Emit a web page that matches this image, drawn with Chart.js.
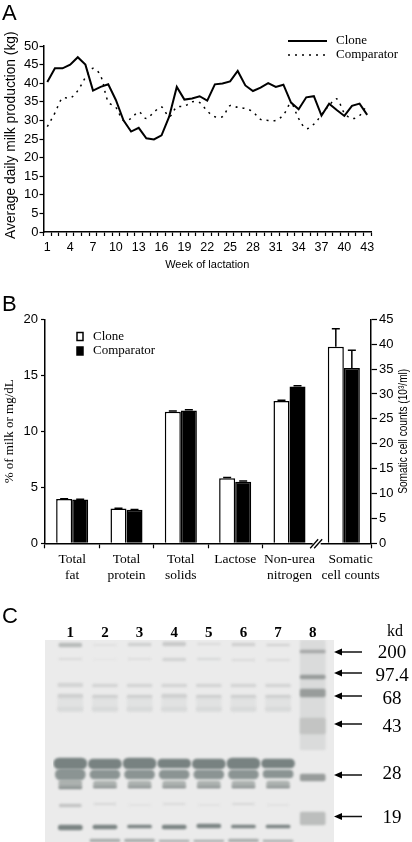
<!DOCTYPE html>
<html>
<head>
<meta charset="utf-8">
<script src="https://cdn.jsdelivr.net/npm/chart.js@4/dist/chart.umd.min.js"></script>
<style>
  html, body { margin: 0; padding: 0; background: #fff; }
  body { position: relative; width: 412px; height: 842px; overflow: hidden; }
  canvas { position: absolute; left: 0; }
  .panel { position: absolute; left: 2px; font: 22px "Liberation Sans", sans-serif; line-height: 22px; color: #000; }
</style>
</head>
<body>
<canvas id="milkChart" width="412" height="274" style="top:0"></canvas>
<canvas id="compChart" width="412" height="295" style="top:290px"></canvas>
<canvas id="gelChart" width="412" height="227" style="top:615px"></canvas>
<div class="panel" style="top:2px">A</div>
<div class="panel" style="top:293px">B</div>
<div class="panel" style="top:605px">C</div>
<script>
// panel A
const weeks = ["1","2","3","4","5","6","7","8","9","10","11","12","13","14","15","16","17","18","19","20","21","22","23","24","25","26","27","28","29","30","31","32","33","34","35","36","37","38","39","40","41","42","43"];
const cloneMilk = [40.3,44,44,45,47,45,38,39,39.7,35.5,30,27,28,25.2,24.9,26,31,39,35.6,35.9,36.5,35.3,39.7,39.9,40.5,43.3,39.4,37.9,38.8,40,39,39.6,34.8,33,36.2,36.5,31.3,34.5,32.8,31.2,33.9,34.5,31.5];
const comparatorMilk = [28.3,32,36,36,38,41.5,44,42,35,33.5,30,30.5,32.3,30.5,32.2,33.6,31,33.6,33.8,35,34.8,32.5,31,31,34,33.5,33.2,32.3,30.3,30,30,31.5,34.5,30.5,27.8,29,31.5,34,35.8,32,30.5,31.3,34.2];

// panel B, nbsp on the last label because it sits right of its bars in the original
const components = [["Total","fat"],["Total","protein"],["Total","solids"],["Lactose"],["Non-urea","nitrogen"],["\u00a0\u00a0\u00a0\u00a0Somatic","\u00a0\u00a0\u00a0\u00a0cell counts"]];
const clonePct = [3.95,3.1,11.75,5.8,12.7,null];
const comparatorPct = [3.9,3.0,11.85,5.5,14,null];
const cloneScc = [null,null,null,null,null,39.5];
const comparatorScc = [null,null,null,null,null,35.2];
const clonePctErr = [0.02,0.02,0.07,0.07,0.07,null];
const comparatorPctErr = [0.04,0.02,0.07,0.07,0.06,null];
const cloneSccErr = [null,null,null,null,null,3.6];
const comparatorSccErr = [null,null,null,null,null,3.6];

// panel C, migration measured down the gel from its top edge
const lanes = ["1","2","3","4","5","6","7","8"];
const bandHigh = [[3,7],[4,6],[3,6],[2,6],[3,5],[3,6],[4,6]];
const bandHigh2 = [[18,20],[19,20],[18,20],[18,21],[18,20],[19,21],[19,21]];
const bandMid1 = [[43,47],[44,47],[44,47],[44,47],[44,47],[44,47],[44,47]];
const bandMid2 = [[54,58],[55,58],[55,58],[54,58],[55,58],[55,58],[55,58]];
const smearMid = [[57,72],[57,72],[57,72],[57,72],[57,72],[57,72],[57,72]];
const bandMid3 = [[67,71],[67,71],[67,71],[67,71],[67,71],[67,71],[67,71]];
const caseinUpper = [[118,129],[119,129],[118,129],[119,128],[119,129],[118,129],[119,128]];
const caseinMiddle = [[129,140],[130,139],[130,139],[130,139],[130,139],[130,139],[130,138]];
const caseinLower = [[140,147],[141,147],[141,147],[141,147],[141,147],[141,147],[141,147]];
const caseinLine = [[146,149],[146,148],[146,148],[146,148],[146,148],[146,148],[146,148]];
const bandFaint = [[164,167],[163,165],[164,166],[163,165],[164,166],[163,165],[164,166]];
const bandLow = [[185,190],[185,189],[185,188],[185,189],[184,188],[185,188],[185,188]];
const bandEdge = [null,[199,202],[199,202],[200,202],[200,202],[199,202],[200,202]];
const ladderTop = [0,35,49,78,134,172];
const ladderBottom = [110,39,57,94,141,185];
const ladderTopBand = [10,13];
const markerLabels = ["200","97.4","68","43","28","19"];
const markerArrows = [12,33,56,84,135,176.5];
const markerTextRows = [13,36,59,87,134,178];

const serif = '"Liberation Serif", serif';
const sans = '"Liberation Sans", sans-serif';

Chart.defaults.animation = false;
Chart.defaults.responsive = false;
Chart.defaults.devicePixelRatio = 1;
Chart.defaults.color = "#000";
Chart.defaults.plugins.legend.display = false;
Chart.defaults.plugins.tooltip.enabled = false;

// legend sits outside the plot in both panels, so it is drawn by hand from the datasets
const handLegend = {
  id: "handLegend",
  afterDraw(chart, args, opts) {
    const ctx = chart.ctx;
    ctx.save();
    ctx.font = "13px " + serif;
    ctx.textBaseline = "middle";
    ctx.textAlign = "left";
    opts.items.forEach((idx, i) => {
      const ds = chart.data.datasets[idx];
      const y = opts.y + i * opts.step;
      if (opts.kind === "line") {
        ctx.strokeStyle = "#000";
        ctx.lineWidth = ds.borderWidth;
        ctx.setLineDash(ds.borderDash || []);
        ctx.beginPath();
        ctx.moveTo(opts.x, y);
        ctx.lineTo(opts.x + 39, y);
        ctx.stroke();
        ctx.setLineDash([]);
      } else {
        ctx.fillStyle = ds.backgroundColor;
        ctx.strokeStyle = "#000";
        ctx.lineWidth = 1.5;
        ctx.fillRect(opts.x, y - 4, 6, 8);
        ctx.strokeRect(opts.x, y - 4, 6, 8);
      }
      ctx.fillStyle = "#000";
      ctx.fillText(ds.label, opts.textX, y);
    });
    ctx.restore();
  }
};

const errorBars = {
  id: "errorBars",
  afterDatasetsDraw(chart) {
    const ctx = chart.ctx;
    ctx.save();
    ctx.strokeStyle = "#000";
    ctx.lineWidth = 1.5;
    chart.data.datasets.forEach((ds, d) => {
      const meta = chart.getDatasetMeta(d);
      const scale = chart.scales[ds.yAxisID];
      ds.errors.forEach((err, i) => {
        if (err === null) return;
        const x = meta.data[i].x;
        const y0 = scale.getPixelForValue(ds.data[i]);
        const y1 = scale.getPixelForValue(ds.data[i] + err);
        ctx.beginPath();
        ctx.moveTo(x, y0);
        ctx.lineTo(x, y1);
        ctx.moveTo(x - 4, y1);
        ctx.lineTo(x + 4, y1);
        ctx.stroke();
      });
    });
    ctx.restore();
  }
};

// the // on the x axis in front of the somatic cell group
const axisBreak = {
  id: "axisBreak",
  afterDraw(chart) {
    const ctx = chart.ctx;
    const xs = chart.scales.x;
    const x = (xs.getPixelForValue(4) + xs.getPixelForValue(5)) / 2;
    const y = chart.chartArea.bottom;
    ctx.save();
    ctx.fillStyle = "#fff";
    ctx.fillRect(x - 4, y - 3, 8, 14);
    ctx.strokeStyle = "#000";
    ctx.lineWidth = 1.3;
    [-2.5, 1.5].forEach(dx => {
      ctx.beginPath();
      ctx.moveTo(x + dx - 4, y + 5);
      ctx.lineTo(x + dx + 4, y - 4);
      ctx.stroke();
    });
    ctx.restore();
  }
};

// chart.js turns a right axis title the other way, the original reads bottom to top
const rightTitle = {
  id: "rightTitle",
  afterDraw(chart) {
    const ctx = chart.ctx;
    const a = chart.chartArea;
    ctx.save();
    ctx.translate(404, (a.top + a.bottom) / 2);
    ctx.rotate(-Math.PI / 2);
    ctx.textAlign = "center";
    ctx.textBaseline = "middle";
    ctx.fillStyle = "#000";
    ctx.font = "12.5px " + sans;
    ctx.fillText("Somatic cell counts (10³/ml)", 0, 0, 125);
    ctx.restore();
  }
};

const gelPaint = {
  id: "gelPaint",
  beforeDatasetsDraw(chart) {
    const ctx = chart.ctx;
    const a = chart.chartArea;
    ctx.save();
    ctx.fillStyle = "#ebebeb";
    ctx.fillRect(45, a.top, 289, a.bottom - a.top);
    ctx.restore();
    ctx.filter = "blur(1.3px)";
  },
  afterDatasetsDraw(chart) {
    const ctx = chart.ctx;
    const ys = chart.scales.y;
    ctx.filter = "none";
    ctx.save();
    ctx.fillStyle = "#000";
    ctx.strokeStyle = "#111";
    ctx.lineWidth = 1.5;
    markerArrows.forEach(v => {
      const y = ys.getPixelForValue(v);
      ctx.beginPath();
      ctx.moveTo(338, y);
      ctx.lineTo(362, y);
      ctx.stroke();
      ctx.beginPath();
      ctx.moveTo(334, y);
      ctx.lineTo(342, y - 3.5);
      ctx.lineTo(342, y + 3.5);
      ctx.closePath();
      ctx.fill();
    });
    ctx.textAlign = "center";
    ctx.textBaseline = "middle";
    ctx.font = "19px " + serif;
    markerLabels.forEach((t, i) => ctx.fillText(t, 392, ys.getPixelForValue(markerTextRows[i])));
    ctx.font = "16px " + serif;
    ctx.fillText("kd", 395, ys.getPixelForValue(-8));
    ctx.restore();
  }
};

new Chart(document.getElementById("milkChart"), {
  type: "line",
  data: {
    labels: weeks,
    datasets: [
      { label: "Clone", data: cloneMilk, borderColor: "#000", borderWidth: 2, pointRadius: 0, tension: 0 },
      { label: "Comparator", data: comparatorMilk, borderColor: "#000", borderWidth: 1.5, borderDash: [2, 5], pointRadius: 0, tension: 0.35 }
    ]
  },
  options: {
    layout: { padding: { top: 46, right: 41 } },
    plugins: { handLegend: { kind: "line", items: [0, 1], x: 288, textX: 336, y: 41, step: 14 } },
    scales: {
      x: {
        offset: true,
        afterFit: s => { s.height = 42; },
        grid: { offset: true, drawOnChartArea: false, tickColor: "#000", tickWidth: 1.2, tickLength: 4 },
        border: { color: "#000", width: 1.5 },
        ticks: {
          autoSkip: false, maxRotation: 0, padding: 4,
          font: { family: sans, size: 12.5 },
          callback: (v, i) => (i % 3 === 0 ? weeks[i] : "")
        },
        title: { display: true, text: "Week of lactation", font: { family: sans, size: 11 }, padding: { top: 0, bottom: 2 } }
      },
      y: {
        min: 0, max: 50,
        afterFit: s => { s.width = 43.5; },
        grid: { drawOnChartArea: false, tickColor: "#000", tickWidth: 1.2, tickLength: 4 },
        border: { color: "#000", width: 1.5 },
        ticks: { stepSize: 5, padding: 1, font: { family: sans, size: 13 } },
        title: { display: true, text: "\u00a0\u00a0Average daily milk production (kg)", font: { family: sans, size: 13.8 }, padding: { top: 3, bottom: 0 } }
      }
    }
  },
  plugins: [handLegend]
});

new Chart(document.getElementById("compChart"), {
  type: "bar",
  data: {
    labels: components,
    datasets: [
      { label: "Clone", data: clonePct, errors: clonePctErr, yAxisID: "y", stack: "clone", backgroundColor: "#fff", borderColor: "#000" },
      { label: "Comparator", data: comparatorPct, errors: comparatorPctErr, yAxisID: "y", stack: "comparator", backgroundColor: "#000", borderColor: "#000" },
      { label: "Clone", data: cloneScc, errors: cloneSccErr, yAxisID: "y2", stack: "clone", backgroundColor: "#fff", borderColor: "#000" },
      { label: "Comparator", data: comparatorScc, errors: comparatorSccErr, yAxisID: "y2", stack: "comparator", backgroundColor: "#000", borderColor: "#000" }
    ]
  },
  options: {
    layout: { padding: { top: 29.3 } },
    datasets: { bar: { categoryPercentage: 0.59, barPercentage: 1, borderWidth: 1.5, borderSkipped: "bottom" } },
    plugins: { handLegend: { kind: "box", items: [0, 1], x: 77, textX: 93, y: 46.5, step: 14.5 } },
    scales: {
      x: {
        afterFit: s => { s.height = 41.7; },
        grid: { offset: true, drawOnChartArea: false, tickColor: "#000", tickWidth: 1.2, tickLength: 5 },
        border: { color: "#000", width: 1.5 },
        ticks: { maxRotation: 0, autoSkip: false, padding: 3, font: { family: serif, size: 13.5 } }
      },
      y: {
        min: 0, max: 20,
        afterFit: s => { s.width = 45; },
        grid: { drawOnChartArea: false, tickColor: "#000", tickWidth: 1.2, tickLength: 4 },
        border: { color: "#000", width: 1.5 },
        ticks: { stepSize: 5, padding: 3, font: { family: sans, size: 13 } },
        title: { display: true, text: "% of milk or mg/dL", font: { family: serif, size: 13 }, padding: { top: 2, bottom: 0 } }
      },
      y2: {
        position: "right",
        min: 0, max: 45,
        afterFit: s => { s.width = 41; },
        grid: { drawOnChartArea: false, tickColor: "#000", tickWidth: 1.2, tickLength: 6 },
        border: { color: "#000", width: 1.5 },
        ticks: { stepSize: 5, padding: 2, font: { family: sans, size: 13 } }
      }
    }
  },
  plugins: [handLegend, errorBars, axisBreak, rightTitle]
});

// first dataset ends up on top, so the strong bands come first
function laneSet(name, values, color, width, radius) {
  return { label: name, data: values.concat([null]), backgroundColor: color, barThickness: width, borderSkipped: false, borderRadius: radius || 3, grouped: false };
}
function ladderSet(name, low, high, color) {
  return { label: name, data: [null,null,null,null,null,null,null,[low,high]], backgroundColor: color, barThickness: 25, borderSkipped: false, borderRadius: 2, grouped: false };
}
const ladderSets = markerLabels.slice(1).map((t, i) =>
  ladderSet(t, ladderTop[i + 1], ladderBottom[i + 1], i === 2 ? "#c3c4c3" : i === 4 ? "#bcbebd" : "#989c9b"));

new Chart(document.getElementById("gelChart"), {
  type: "bar",
  data: {
    labels: lanes,
    datasets: [
      laneSet("upper", caseinUpper, "#788281", 33, 6),
      laneSet("middle", caseinMiddle, "#8b9493", 30, 6),
      laneSet("line", caseinLine, "#8f9594", 23),
      laneSet("low", bandLow, "#7b8483", 24),
      laneSet("edge", bandEdge, "#a9adac", 30),
      laneSet("lower", caseinLower, "#adb2b0", 23),
      laneSet("faint", bandFaint, ["#c3c4c4","#d9dada","#e3e3e3","#dcdcdc","#e3e3e3","#d9dada","#e3e3e3"], 22),
      laneSet("mid1", bandMid1, "#d3d4d4", 25),
      laneSet("mid2", bandMid2, "#cfd0d0", 25),
      laneSet("mid3", bandMid3, "#d9dada", 25),
      laneSet("midSmear", smearMid, "#e1e2e2", 25),
      laneSet("high", bandHigh, ["#b9bcbb","#e1e1e1","#cfd0d0","#c9caca","#dcdcdc","#d0d0d0","#d4d4d4"], 23),
      laneSet("high2", bandHigh2, ["#dcdcdc","#e4e4e4","#dfdfdf","#d2d3d3","#d8d9d9","#dcdcdc","#dcdcdc"], 23),
      ...ladderSets,
      ladderSet("200", ladderTopBand[0], ladderTopBand[1], "#a6a8a8"),
      ladderSet("wash", ladderTop[0], ladderBottom[0], "#dadbdb")
    ]
  },
  options: {
    indexAxis: "x",
    layout: { padding: { left: 53, right: 82 } },
    scales: {
      x: {
        position: "top",
        afterFit: s => { s.height = 25; },
        grid: { display: false, drawTicks: false },
        border: { display: false },
        ticks: { padding: -2, font: { family: serif, size: 15, weight: "bold" } }
      },
      y: { display: false, reverse: true, min: 0, max: 202 }
    }
  },
  plugins: [gelPaint]
});
</script>
</body>
</html>
